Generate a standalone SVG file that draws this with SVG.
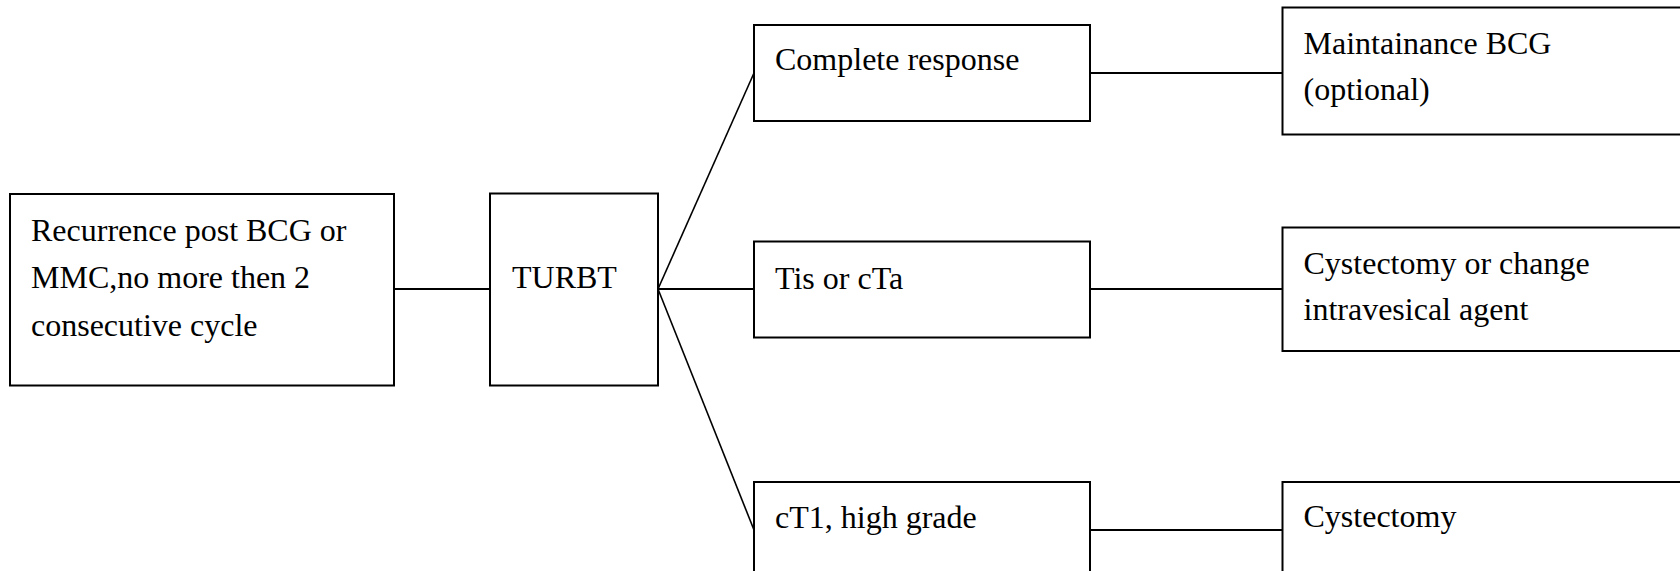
<svg xmlns="http://www.w3.org/2000/svg" width="1680" height="571" viewBox="0 0 1680 571">
<style>
.box{fill:#fff;stroke:#000;stroke-width:2}
.t{font-family:"Liberation Serif","Times New Roman",serif;font-size:32px;fill:#000}
.c{stroke:#000;stroke-width:2;fill:none}
.s{stroke:#000;stroke-width:1.6;fill:none}
</style>
<rect width="1680" height="571" fill="#fff"/>
<g id="connectors">
<line class="c" x1="394" y1="289" x2="490" y2="289"/>
<line class="s" x1="658" y1="289" x2="754" y2="73"/>
<line class="c" x1="658" y1="289" x2="754" y2="289"/>
<line class="s" x1="658" y1="289" x2="754" y2="530"/>
<line class="c" x1="1090" y1="73" x2="1282" y2="73"/>
<line class="c" x1="1090" y1="289" x2="1282" y2="289"/>
<line class="c" x1="1090" y1="530" x2="1282" y2="530"/>
</g>
<g id="recurrence">
<rect class="box" x="10" y="194" width="384" height="191.5"/>
<text class="t" x="31" y="241">Recurrence post BCG or</text>
<text class="t" x="31" y="288">MMC,no more then 2</text>
<text class="t" x="31" y="336">consecutive cycle</text>
</g>
<g id="turbt">
<rect class="box" x="490" y="193.5" width="168" height="192"/>
<text class="t" x="512" y="288">TURBT</text>
</g>
<g id="complete">
<rect class="box" x="754" y="25" width="336" height="96"/>
<text class="t" x="775" y="70">Complete response</text>
</g>
<g id="tis">
<rect class="box" x="754" y="241.5" width="336" height="96"/>
<text class="t" x="775" y="288.5">Tis or cTa</text>
</g>
<g id="ct1">
<rect class="box" x="754" y="482" width="336" height="120"/>
<text class="t" x="775" y="527.5">cT1, high grade</text>
</g>
<g id="maintenance">
<rect class="box" x="1282.5" y="7.5" width="420" height="127"/>
<text class="t" x="1303.5" y="54">Maintainance BCG</text>
<text class="t" x="1303.5" y="100">(optional)</text>
</g>
<g id="cystchange">
<rect class="box" x="1282.5" y="227.5" width="420" height="123.5"/>
<text class="t" x="1303.5" y="273.5">Cystectomy or change</text>
<text class="t" x="1303.5" y="320">intravesical agent</text>
</g>
<g id="cystectomy">
<rect class="box" x="1282.5" y="482" width="420" height="120"/>
<text class="t" x="1303.5" y="527">Cystectomy</text>
</g>
</svg>
